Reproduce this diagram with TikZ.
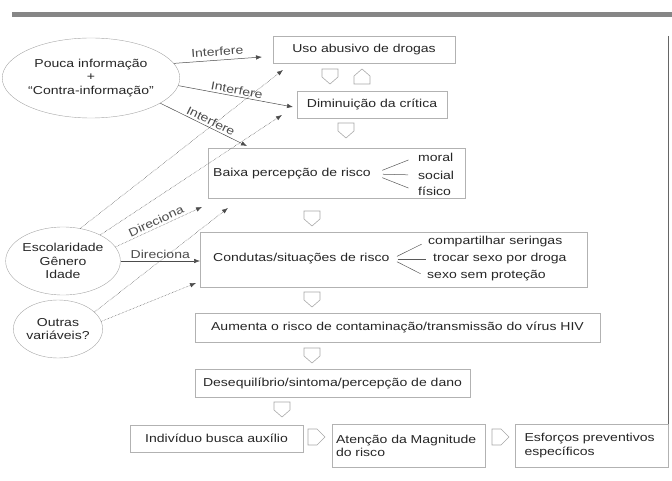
\documentclass[tikz,border=0pt]{standalone}
\usepackage{fontspec}
\setmainfont{Liberation Sans}[FakeStretch=1.22]
\usetikzlibrary{shapes.geometric, arrows.meta}

\tikzset{
  box/.style={draw=gray!60, minimum height=27, inner sep=0pt},
  bubble/.style={ellipse, draw=gray!70, align=center, inner sep=0pt},
  txt/.style={inner sep=2pt},
  link/.style={->, gray!60!black, line width=.5pt},
  dotlink/.style={link, densely dotted},
  hollow/.style={draw=gray!70, line width=.6pt},
  branch/.style={gray!70!black, line width=.5pt},
}

\begin{document}
\begin{tikzpicture}[x=1pt, y=-1pt, font=\fontsize{11.5}{13.5}\selectfont, text=black!85,
    >={Latex[length=6pt, width=4.5pt]}]
    \useasboundingbox (0,0) rectangle (672,481);
    \fill[gray!95] (12,12) rectangle (672,17);
    \draw[gray!80!black, line width=1.2pt] (668.5,36) to (668.5,467);

    % causas
    \node[bubble, minimum width=142, minimum height=80] (info) at (91,78) {Pouca informação\\+\\``Contra-informação''};
    \node[bubble, minimum width=100, minimum height=68] (perfil) at (63,261) {Escolaridade\\Gênero\\Idade};
    \node[bubble, minimum width=87, minimum height=58] (outras) at (58,329) {Outras\\variáveis?};

    % cadeia
    \node[box, minimum width=182] (uso) at (364,49.5) {Uso abusivo de drogas};
    \node[box, minimum width=150] (critica) at (372,104.5) {Diminuição da crítica};
    \node[box, minimum width=257, minimum height=50] (percepcao) at (336.5,173) {};
    \node[box, minimum width=387, minimum height=55] (condutas) at (393.5,259.5) {};
    \node[box, minimum width=405, minimum height=29] (aumenta) at (397.5,327.5) {Aumenta o risco de contaminação/transmissão do vírus HIV};
    \node[box, minimum width=275, minimum height=28] (dano) at (332.5,383) {Desequilíbrio/sintoma/percepção de dano};
    \node[box, minimum width=173] (auxilio) at (216.5,438.5) {Indivíduo busca auxílio};
    \node[box, minimum width=153, minimum height=43, align=left, text width=145] (magnitude) at (408.5,446) {Atenção da Magnitude\\do risco};
    \node[box, minimum width=153, minimum height=43, align=left, text width=134] (esforcos) at (591.5,445.5) {Esforços preventivos\\específicos};

    \node[txt, anchor=west] (baixa) at (211,174) {Baixa percepção de risco};
    \node[txt, anchor=west] (moral) at (416,157) {moral};
    \node[txt, anchor=west] (social) at (416,175) {social};
    \node[txt, anchor=west] (fisico) at (416,191) {físico};
    \foreach \k in {moral, social, fisico}
      \draw[branch, shorten <=10, shorten >=8] (baixa.east) to (\k.west);

    \node[txt, anchor=west] (risco) at (211,259) {Condutas/situações de risco};
    \node[txt, anchor=west] (seringas) at (426,242) {compartilhar seringas};
    \node[txt, anchor=west] (troca) at (431,259) {trocar sexo por droga};
    \node[txt, anchor=west] (protecao) at (425,276) {sexo sem proteção};
    \foreach \k in {seringas, troca, protecao}
      \draw[branch, shorten <=6, shorten >=5] (risco.east) to (\k.west);

    % setas vazadas
    \foreach \x/\y in {330/69, 346/123, 312/211, 312/292, 312/348, 282/402}
      \draw[hollow] (\x-8,\y) -- (\x+8,\y) -- (\x+8,\y+8) -- (\x,\y+15) -- (\x-8,\y+8) -- cycle;
    \draw[hollow] (354,84) -- (370,84) -- (370,76) -- (362,69) -- (354,76) -- cycle;
    \foreach \x in {308, 492}
      \draw[hollow] (\x,429) -- (\x+9,429) -- (\x+17,437) -- (\x+9,445) -- (\x,445) -- cycle;

    % pontas das setas
    \coordinate (t1) at (262,57);
    \coordinate (t2) at (293,107);
    \coordinate (t3) at (247,146);
    \coordinate (t4) at (283,70);
    \coordinate (t5) at (282,115);
    \coordinate (t6) at (202,207);
    \coordinate (t7) at (200,261);
    \coordinate (t8) at (228,208);
    \coordinate (t9) at (196,283);

    \draw[link] (info.10) to node[txt, above=2pt, sloped] {Interfere} (t1);
    \draw[link] (info.-5) to node[txt, above, sloped] {Interfere} (t2);
    \draw[link] (info.-20) to node[txt, above, sloped, pos=.55] {Interfere} (t3);

    \draw[dotlink] (perfil.62) to (t4);
    \draw[dotlink] (perfil.35) to (t5);
    \draw[dotlink] (perfil.15) to node[txt, above, sloped] {Direciona} (t6);
    \draw[link] (perfil.east) to node[txt, above] {Direciona} (t7);
    \draw[dotlink] (outras.25) to (t8);
    \draw[dotlink] (outras.10) to (t9);

  \end{tikzpicture}
\end{document}
